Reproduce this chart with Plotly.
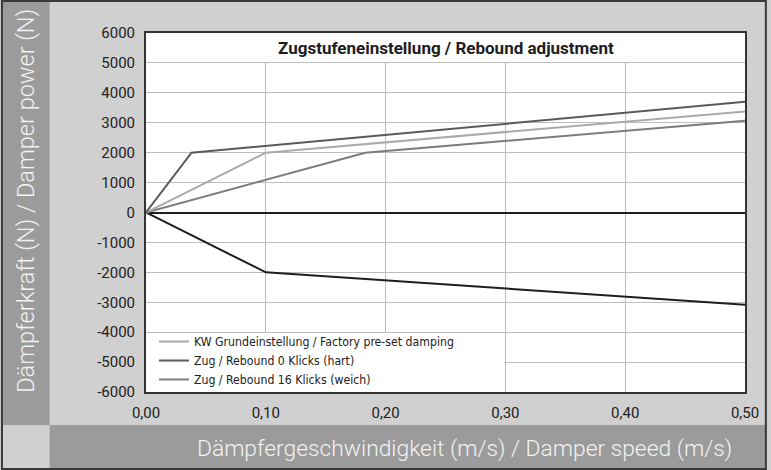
import plotly.graph_objects as go

# ---- data ----
speed_factory = [0.0, 0.10, 0.50]
force_factory = [0, 2000, 3380]
speed_hard = [0.0, 0.038, 0.50]
force_hard = [0, 2000, 3700]
speed_soft = [0.0, 0.183, 0.50]
force_soft = [0, 2000, 3070]
speed_comp = [0.0, 0.10, 0.50]
force_comp = [0, -2000, -3080]

series_names = [
    "KW Grundeinstellung / Factory pre-set damping",
    "Zug / Rebound 0 Klicks (hart)",
    "Zug / Rebound 16 Klicks (weich)",
]
x_tickvals = [0.0, 0.1, 0.2, 0.3, 0.4, 0.5]
x_ticktext = ["0,00", "0,10", "0,20", "0,30", "0,40", "0,50"]
y_tickvals = list(range(-6000, 7000, 1000))
y_ticktext = [str(v) for v in y_tickvals]

title_text = "Zugstufeneinstellung / Rebound adjustment"
x_title = "Dämpfergeschwindigkeit (m/s) / Damper speed (m/s)"
y_title = "Dämpferkraft (N) / Damper power (N)"

# ---- figure ----
W, H = 771, 470
L, R, T, B = 146, 22, 33, 78
pw, ph = W - L - R, H - T - B

def px(xp):
    return (xp - L) / pw

def py(yp):
    return (H - B - yp) / ph

LIGHT = "#d0d0d0"
DARK = "#9b9b9b"
cond = "Noto Sans Condensed, DejaVu Sans Condensed, sans-serif"

fig = go.Figure()
fig.add_trace(go.Scatter(x=speed_comp, y=force_comp, mode="lines",
                         line=dict(color="#1e1e1e", width=2), showlegend=False))
fig.add_trace(go.Scatter(x=speed_soft, y=force_soft, mode="lines", name=series_names[2],
                         line=dict(color="#7c7c7c", width=2)))
fig.add_trace(go.Scatter(x=speed_factory, y=force_factory, mode="lines", name=series_names[0],
                         line=dict(color="#ababab", width=2)))
fig.add_trace(go.Scatter(x=speed_hard, y=force_hard, mode="lines", name=series_names[1],
                         line=dict(color="#5a5a5a", width=2)))

shapes = [
    # white bands hiding gridlines (title band, legend box)
    dict(type="rect", xref="x", yref="y", x0=0, x1=0.5, y0=5030, y1=6000,
         fillcolor="white", line_width=0, layer="between"),
    dict(type="rect", xref="x", yref="y", x0=0, x1=0.2985, y0=-6000, y1=-4030,
         fillcolor="white", line_width=0, layer="between"),
    # left strip
    dict(type="rect", xref="paper", yref="paper", x0=px(0), x1=px(49), y0=py(425), y1=py(0),
         fillcolor=DARK, line_width=0, layer="below"),
    # bottom strip
    dict(type="rect", xref="paper", yref="paper", x0=px(49), x1=px(W), y0=py(H), y1=py(425),
         fillcolor=DARK, line_width=0, layer="below"),
    # outer frame
    dict(type="rect", xref="paper", yref="paper", x0=px(1), x1=px(W - 1), y0=py(H - 1), y1=py(1),
         fillcolor="rgba(0,0,0,0)", line=dict(color="#3a3a3a", width=2), layer="above"),
]

annotations = [
    dict(text=title_text, xref="paper", yref="paper", x=0.5, y=py(48), xanchor="center",
         yanchor="middle", showarrow=False,
         font=dict(family="Noto Sans Condensed, Roboto, sans-serif", size=17,
                   color="#1e1e1e", weight="bold")),
    dict(text=x_title, xref="paper", yref="paper", x=px(467), y=py(448), xanchor="center",
         yanchor="middle", showarrow=False,
         font=dict(family="Roboto, sans-serif", size=22.8, color="#f2f2f2", weight=300)),
    dict(text=y_title, xref="paper", yref="paper", x=px(25), y=py(201), xanchor="center",
         yanchor="middle", showarrow=False, textangle=-90,
         font=dict(family="Roboto, sans-serif", size=23.5, color="#f2f2f2", weight=300)),
]

fig.update_layout(
    width=W, height=H,
    margin=dict(l=L, r=R, t=T, b=B),
    paper_bgcolor=LIGHT, plot_bgcolor="white",
    shapes=shapes, annotations=annotations,
    legend=dict(x=px(154), y=py(327), xanchor="left", yanchor="top",
                bgcolor="rgba(0,0,0,0)", tracegroupgap=0, traceorder="normal",
                font=dict(family=cond, size=12.2, color="#222"), itemwidth=30),
    xaxis=dict(range=[0, 0.5], tickvals=x_tickvals, ticktext=x_ticktext,
               showgrid=True, gridcolor="#bdbdbd", gridwidth=1,
               showline=True, linecolor="#333", linewidth=2, mirror=True,
               zeroline=False, ticks="", ticklabelstandoff=6,
               tickfont=dict(family="Roboto, sans-serif", size=15, color="#222")),
    yaxis=dict(range=[-6000, 6000], tickvals=y_tickvals, ticktext=y_ticktext,
               showgrid=True, gridcolor="#bdbdbd", gridwidth=1,
               showline=True, linecolor="#333", linewidth=2, mirror=True,
               zeroline=True, zerolinecolor="#1e1e1e", zerolinewidth=2,
               ticks="", ticklabelstandoff=6,
               tickfont=dict(family="Roboto, sans-serif", size=15, color="#222")),
)

# legend order: factory, hard, soft
fig.data[1].legendrank = 3
fig.data[2].legendrank = 1
fig.data[3].legendrank = 2

fig.write_html("out.html")
